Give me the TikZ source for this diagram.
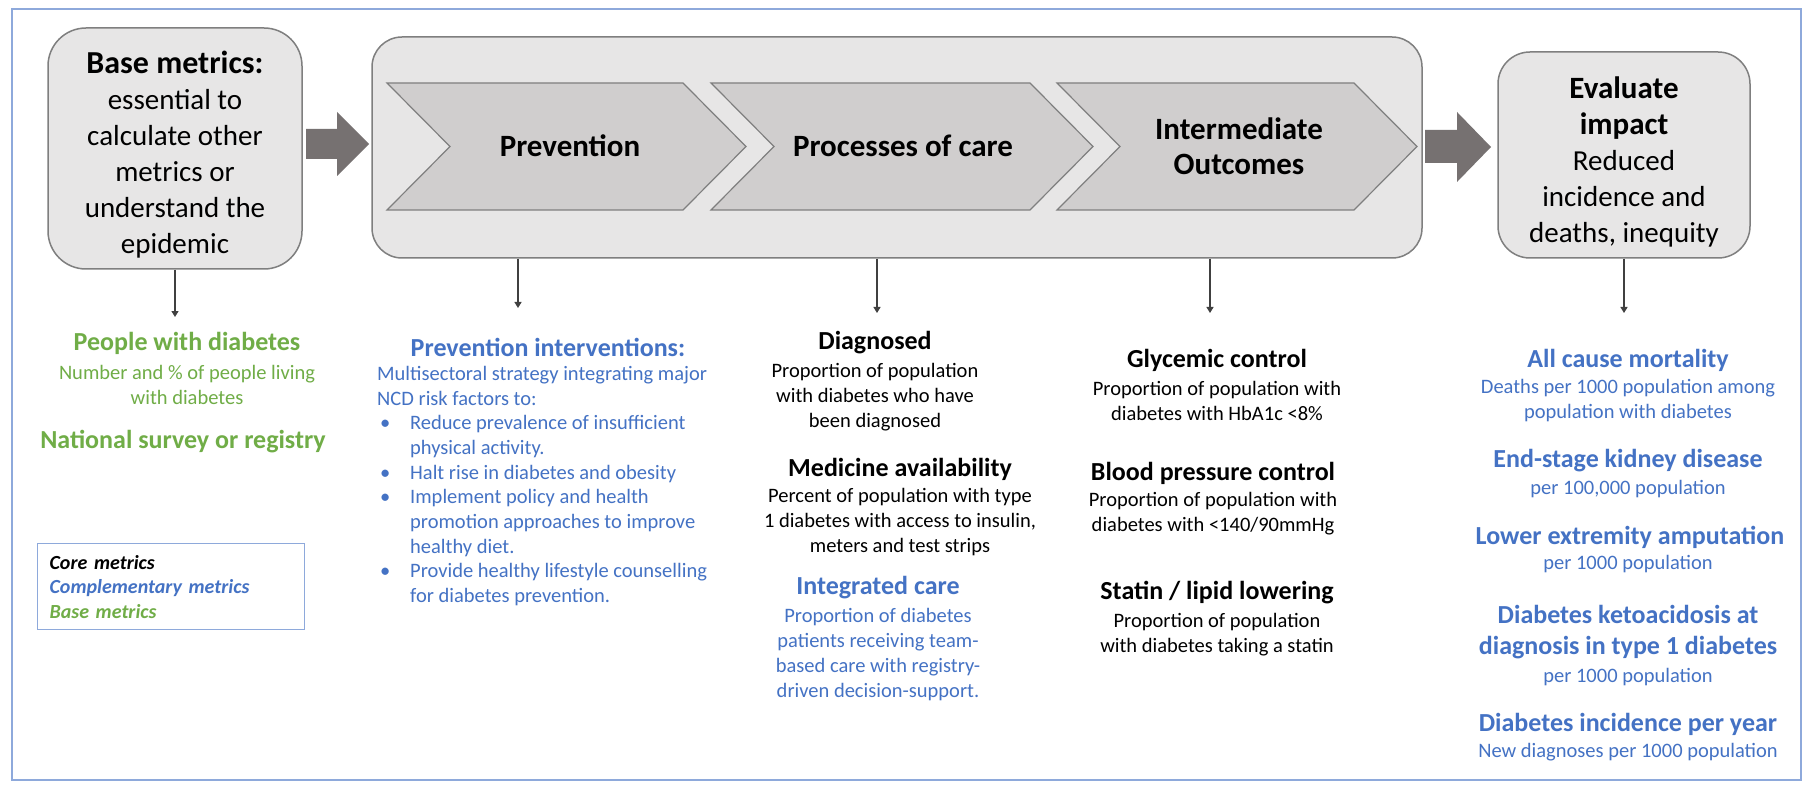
\documentclass[tikz,border=0pt]{standalone}
\usepackage{fontspec}
\setmainfont{Carlito}
\usetikzlibrary{arrows.meta}
\definecolor{basegreen}{HTML}{70AD47}
\definecolor{compblue}{HTML}{4472C4}
\definecolor{frameblue}{HTML}{8EA9DB}
\definecolor{boxfill}{HTML}{E7E6E6}
\definecolor{chevfill}{HTML}{D0CECE}
\definecolor{boxline}{HTML}{7F7F7F}
\definecolor{arrowfill}{HTML}{767171}
\definecolor{linegray}{HTML}{404040}
\begin{document}
		\begin{tikzpicture}[x=1pt,y=-1pt,
			box/.style={draw=boxline,line width=1.5pt,fill=boxfill},
			chev/.style={draw=boxline,line width=1.2pt,fill=chevfill},
			blockarrow/.style={fill=arrowfill},
			conn/.style={draw=linegray,line width=1.3pt,-{Triangle[length=6pt,width=7pt]}},
			bigtxt/.style={font=\fontsize{29}{36}\selectfont,align=center,inner sep=0pt},
			chevtxt/.style={font=\bfseries\fontsize{31}{35}\selectfont,align=center,inner sep=0pt},
			hd/.style={font=\bfseries\fontsize{26}{31}\selectfont,align=center,inner sep=0pt},
			txt/.style={font=\fontsize{20.5}{25}\selectfont,align=center,inner sep=0pt}]
			\fill[white] (0,0) rectangle (1804,786);
			\useasboundingbox (0,0) rectangle (1804,786);
			\draw[frameblue,line width=1.5pt] (12,9) rectangle (1801,780);
			\node[box,rounded corners=38pt,minimum width=254pt,minimum height=241pt] (base) at (175,148.5) {};
			\node[bigtxt] (basetxt) at (175,155) {\textbf{\fontsize{32}{36}\selectfont Base metrics:}\\essential to\\calculate other\\metrics or\\understand the\\epidemic};
			\fill[blockarrow] (306,129) -- (337,129) -- (337,112) -- (369,144) -- (337,176) -- (337,159) -- (306,159) -- cycle;
			\node[box,rounded corners=30pt,minimum width=1050pt,minimum height=221pt] (stages) at (897,147.5) {};
			\draw[chev] (387,83) -- (683,83) -- (746,146.5) -- (683,210) -- (387,210) -- (450,146.5) -- cycle;
			\node[chevtxt] (prev) at (570,146) {Prevention};
			\draw[chev] (711,83) -- (1030,83) -- (1093,146.5) -- (1030,210) -- (711,210) -- (774,146.5) -- cycle;
			\node[chevtxt] (proc) at (903,146) {Processes of care};
			\draw[chev] (1057,83) -- (1354,83) -- (1417,146.5) -- (1354,210) -- (1057,210) -- (1120,146.5) -- cycle;
			\node[chevtxt] (inter) at (1239,146) {Intermediate\\Outcomes};
			\fill[blockarrow] (1425,130) -- (1457,130) -- (1457,112) -- (1491,147) -- (1457,182) -- (1457,163) -- (1425,163) -- cycle;
			\node[box,rounded corners=32pt,minimum width=252pt,minimum height=206pt] (eval) at (1624,155) {};
			\node[bigtxt] (evaltxt) at (1624,162) {\textbf{\fontsize{31}{36}\selectfont Evaluate}\\\textbf{\fontsize{31}{36}\selectfont impact}\\Reduced\\incidence and\\deaths, inequity};
			\node[hd,basegreen] (pwd) at (187,343) {People with diabetes};
			\node[txt,basegreen] (pwdtxt) at (187,384.5) {Number and \% of people living\\with diabetes};
			\node[hd,basegreen] (survey) at (183,442) {National survey or registry};
			\node[draw=frameblue,line width=1.2pt,anchor=north west,minimum height=86pt,text width=243pt,inner xsep=12pt,inner ysep=0pt,align=left,font=\bfseries\itshape\fontsize{20}{24.5}\selectfont] (legend) at (37,543) {Core metrics\\\textcolor{compblue}{Complementary metrics}\\\textcolor{basegreen}{Base metrics}};
			\node[hd,compblue] (prevhd) at (548,347) {Prevention interventions:};
			\node[txt,compblue,anchor=west,align=left,font=\fontsize{20.5}{24.7}\selectfont] (prevtxt) at (377,486) {Multisectoral strategy integrating major\\NCD risk factors to:\\\makebox[33pt][l]{\hspace{3pt}\textbullet}Reduce prevalence of insufficient\\\hspace*{33pt}physical activity.\\\makebox[33pt][l]{\hspace{3pt}\textbullet}Halt rise in diabetes and obesity\\\makebox[33pt][l]{\hspace{3pt}\textbullet}Implement policy and health\\\hspace*{33pt}promotion approaches to improve\\\hspace*{33pt}healthy diet.\\\makebox[33pt][l]{\hspace{3pt}\textbullet}Provide healthy lifestyle counselling\\\hspace*{33pt}for diabetes prevention.};
			\node[hd] (diag) at (875,343) {Diagnosed};
			\node[txt] (diagtxt) at (875,397.5) {Proportion of population\\with diabetes who have\\been diagnosed};
			\node[hd] (med) at (900,469) {Medicine availability};
			\node[txt] (medtxt) at (900,522.5) {Percent of population with type\\1 diabetes with access to insulin,\\meters and test strips};
			\node[hd,compblue] (integ) at (878,588) {Integrated care};
			\node[txt,compblue] (integtxt) at (878,655) {Proportion of diabetes\\patients receiving team-\\based care with registry-\\driven decision-support.};
			\node[hd] (glyc) at (1217,360) {Glycemic control};
			\node[txt] (glyctxt) at (1217,401) {Proportion of population with\\diabetes with HbA1c <8\%};
			\node[hd] (bp) at (1213,473) {Blood pressure control};
			\node[txt] (bptxt) at (1213,514) {Proportion of population with\\diabetes with <140/90mmHg};
			\node[hd] (statin) at (1217,593) {Statin / lipid lowering};
			\node[txt] (statintxt) at (1217,634.5) {Proportion of population\\with diabetes taking a statin};
			\node[hd,compblue] (mort) at (1628,360) {All cause mortality};
			\node[txt,compblue] (morttxt) at (1628,400.5) {Deaths per 1000 population among\\population with diabetes};
			\node[hd,compblue] (kidney) at (1628,461) {End-stage kidney disease};
			\node[txt,compblue] (kidneytxt) at (1628,489) {per 100,000 population};
			\node[hd,compblue] (amp) at (1630,537) {Lower extremity amputation};
			\node[txt,compblue] (amptxt) at (1628,564) {per 1000 population};
			\node[hd,compblue] (dka) at (1628,632.5) {Diabetes ketoacidosis at\\diagnosis in type 1 diabetes};
			\node[txt,compblue] (dkatxt) at (1628,677) {per 1000 population};
			\node[hd,compblue] (inc) at (1628,724) {Diabetes incidence per year};
			\node[txt,compblue] (inctxt) at (1628,752) {New diagnoses per 1000 population};
			\coordinate (tip1) at (175,317);
			\coordinate (tip2) at (518,308);
			\coordinate (tip3) at (877,313);
			\coordinate (tip4) at (1210,313);
			\coordinate (tip5) at (1624,313);
			\draw[conn] (base) -- (tip1);
			\draw[conn] (tip2 |- stages.south) -- (tip2);
			\draw[conn] (tip3 |- stages.south) -- (tip3);
			\draw[conn] (tip4 |- stages.south) -- (tip4);
			\draw[conn] (eval) -- (tip5);
		\end{tikzpicture}
\end{document}
